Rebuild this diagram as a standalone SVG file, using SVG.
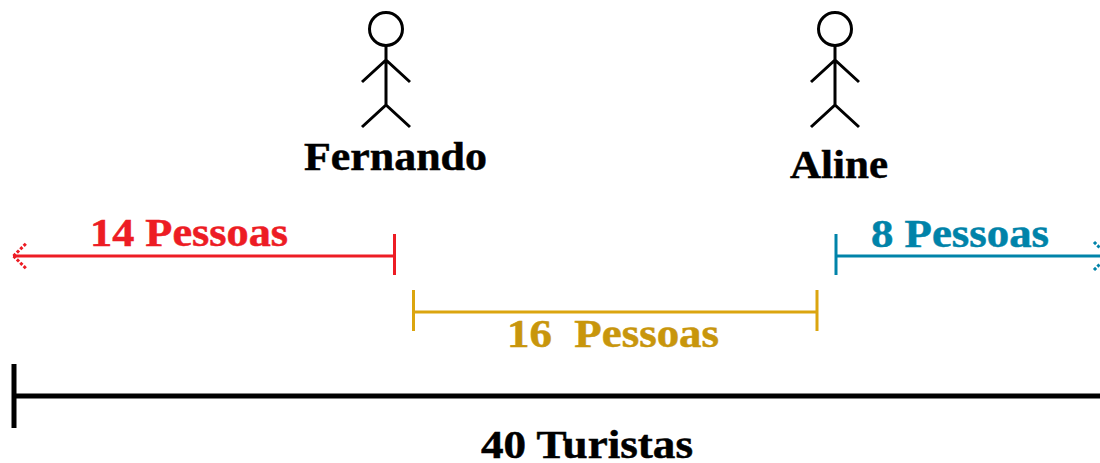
<svg xmlns="http://www.w3.org/2000/svg" width="1100" height="463" viewBox="0 0 1100 463">
<defs>
<style>
text{font-family:"Liberation Serif","Times New Roman",serif;font-weight:bold;font-size:41px;stroke-width:.5px}
.fig{fill:none;stroke:#000;stroke-width:3}
.conn{fill:none}
.red{stroke:#ed1c24;stroke-width:3}
.gold{stroke:#dba50f;stroke-width:3}
.blue{stroke:#0083a9;stroke-width:3}
.black{stroke:#000;stroke-width:5}
.dots{stroke-dasharray:3 1.800;stroke-linejoin:bevel}
.t-black{fill:#000;stroke:#000}
.t-red{fill:#ed1c24;stroke:#ed1c24}
.t-gold{fill:#c8960c;stroke:#c8960c}
.t-blue{fill:#0083a9;stroke:#0083a9}
</style>
<g id="figure" class="fig">
<circle cx="0" cy="29" r="16.5"/>
<path d="M0 46V105M-24 82L0 60L24 82M-24 127L0 105L24 127"/>
</g>
</defs>
<rect width="1100" height="463" fill="#fff"/>
<g id="fernando"><use href="#figure" x="386"/><text class="t-black" x="304" y="170" textLength="183" lengthAdjust="spacingAndGlyphs">Fernando</text></g>
<g id="aline"><use href="#figure" x="835"/><text class="t-black" x="790" y="178" textLength="98" lengthAdjust="spacingAndGlyphs">Aline</text></g>
<g id="connectors" class="conn">
<g id="red-span" class="red"><path d="M13 256H395M394.500 234V275"/><path class="dots" d="M13.500 256L27 242.500M13.500 256L27 269.500"/></g>
<g id="gold-span" class="gold"><path d="M413.500 312H817M413.500 290V331M817 290V331"/></g>
<g id="blue-span" class="blue"><path d="M836 256H1100M836 234V275"/><path class="dots" d="M1094 242L1100 248M1094 270L1100 264"/></g>
<g id="total-span" class="black"><path d="M14 396H1100M14 364V428"/></g>
</g>
<g id="labels">
<text class="t-red" x="90" y="246" textLength="198" lengthAdjust="spacingAndGlyphs">14 Pessoas</text>
<text class="t-gold" x="507" y="347" textLength="212" lengthAdjust="spacingAndGlyphs" xml:space="preserve">16  Pessoas</text>
<text class="t-blue" x="871" y="247" textLength="178" lengthAdjust="spacingAndGlyphs">8 Pessoas</text>
<text class="t-black" x="481" y="458" textLength="212" lengthAdjust="spacingAndGlyphs">40 Turistas</text>
</g>
</svg>
